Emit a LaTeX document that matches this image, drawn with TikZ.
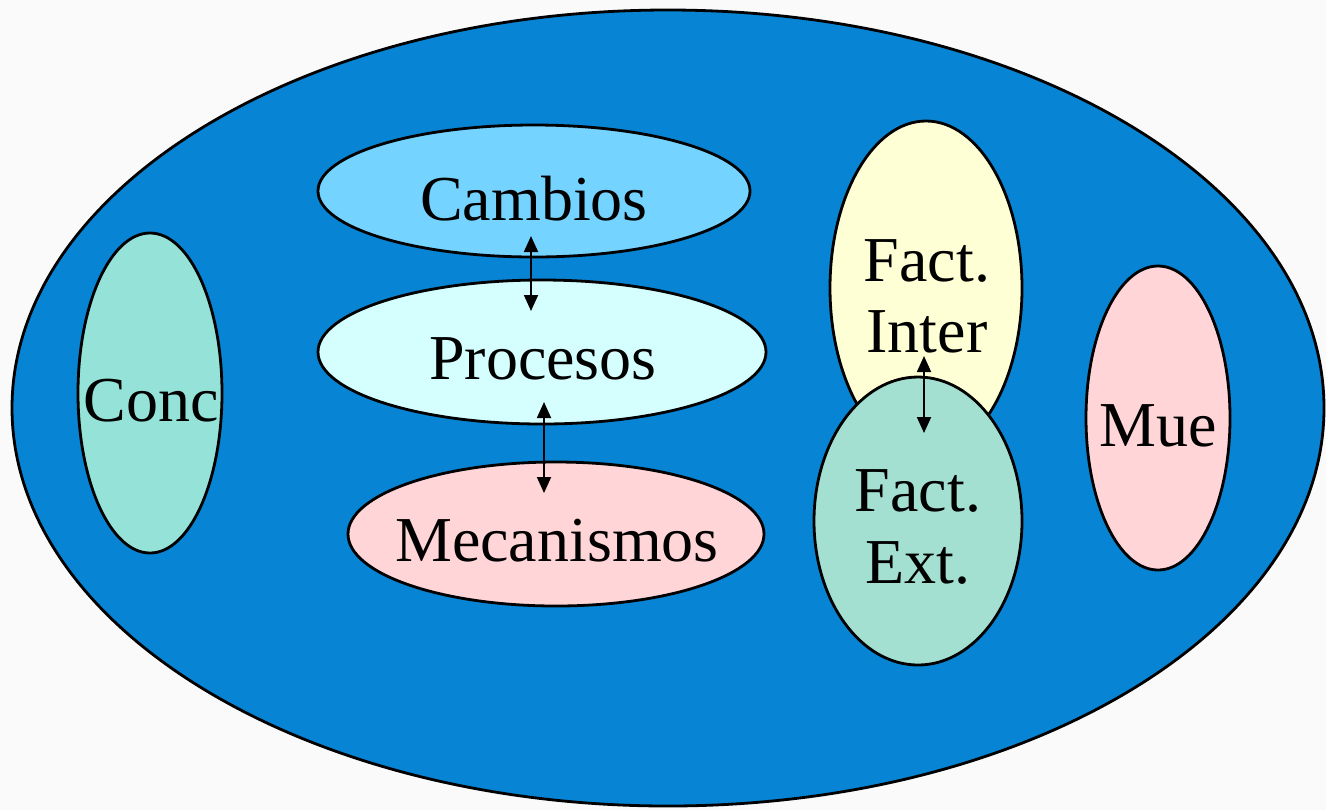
\documentclass[tikz,border=0pt]{standalone}
\usepackage{fontspec}
\setmainfont{Liberation Serif}
\newfontfamily\tnr{LiberationSerif-Regular.ttf}
\usetikzlibrary{shapes.geometric,arrows.meta}
\definecolor{bgc}{HTML}{FAFAFA}
\definecolor{bigblue}{HTML}{0784D3}
\definecolor{concc}{HTML}{94E2D8}
\definecolor{cambc}{HTML}{75D3FF}
\definecolor{procc}{HTML}{D5FFFF}
\definecolor{pinkc}{HTML}{FFD5D8}
\definecolor{yelc}{HTML}{FFFFD5}
\definecolor{extc}{HTML}{A3E0D2}
\tikzset{
  blob/.style={ellipse, draw=black, line width=1.4pt, inner sep=0pt},
  lbl/.style={font=\tnr\fontsize{32}{36}\selectfont, inner sep=0pt, align=center, anchor=base},
  dbl/.style={{Triangle[width=7pt,length=8pt]}-{Triangle[width=7pt,length=8pt]}, line width=0.9pt, black}
}
\begin{document}
\begin{tikzpicture}[x=0.5pt,y=-0.5pt]
\fill[bgc] (0,0) rectangle (1326,810);
\useasboundingbox (0,0) rectangle (1326,810);
\node[blob, fill=bigblue, minimum width=656pt, minimum height=398pt] (big) at (668,408) {};
\node[blob, fill=concc, minimum width=72pt, minimum height=160pt] (conc) at (150,393) {};
\node[blob, fill=cambc, minimum width=216pt, minimum height=66pt] (camb) at (534,191) {};
\node[blob, fill=procc, minimum width=224pt, minimum height=72pt] (proc) at (542,352) {};
\node[blob, fill=pinkc, minimum width=208pt, minimum height=72pt] (meca) at (556,534) {};
\node[blob, fill=yelc, minimum width=96pt, minimum height=167pt] (inter) at (926,288) {};
\node[blob, fill=extc, minimum width=104pt, minimum height=144pt] (ext) at (918,521) {};
\node[blob, fill=pinkc, minimum width=72pt, minimum height=152pt] (mue) at (1158,418) {};
\node[lbl] (tconc) at (151,421) {Conc};
\node[lbl] (tcamb) at (534,220) {Cambios};
\node[lbl] (tproc) at (543,379) {Procesos};
\node[lbl] (tmeca) at (557,561) {Mecanismos};
\node[lbl] (tinter1) at (927,281) {Fact.};
\node[lbl] (tinter2) at (927,352) {Inter};
\node[lbl] (text1) at (918,511) {Fact.};
\node[lbl] (text2) at (918,583) {Ext.};
\node[lbl] (tmue) at (1158,446) {Mue};
\coordinate (a1) at (531,236);
\coordinate (a2) at (531,311);
\coordinate (b1) at (544,402);
\coordinate (b2) at (544,493);
\coordinate (c1) at (924,356);
\coordinate (c2) at (924,433);
\draw[dbl] (a1) -- (a2);
\draw[dbl] (b1) -- (b2);
\draw[dbl] (c1) -- (c2);
\end{tikzpicture}
\end{document}
